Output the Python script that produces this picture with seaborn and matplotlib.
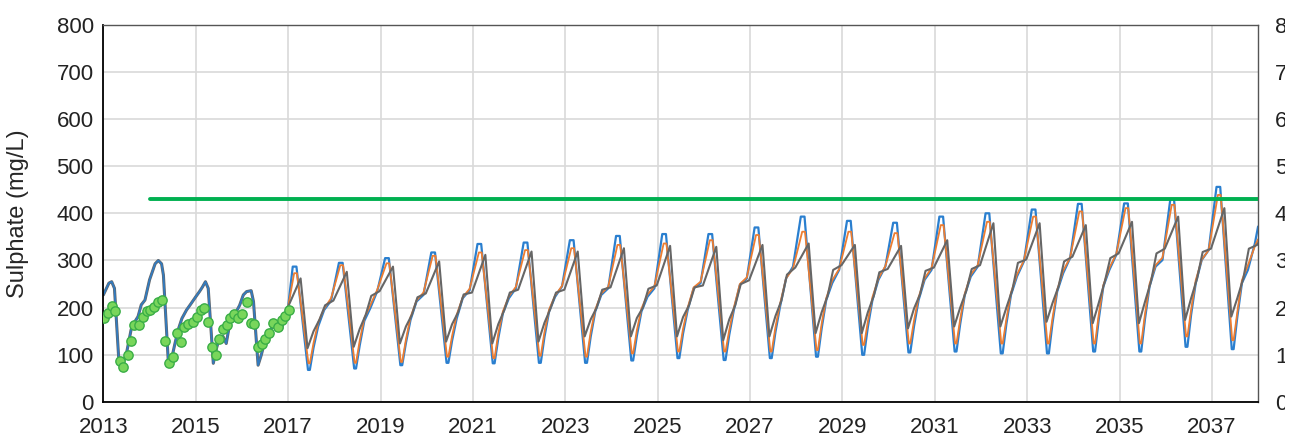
import pandas as pd
import matplotlib
matplotlib.use("Agg")
import matplotlib.pyplot as plt
from matplotlib.transforms import Bbox, TransformedBbox
import seaborn as sns

# ---- data ----
years = list(range(2017, 2038))

# calibration period (blue and grey model lines coincide)
hist_t = [2013.00, 2013.12, 2013.18, 2013.24, 2013.33, 2013.40, 2013.50, 2013.60, 2013.66, 2013.75,
          2013.82, 2013.90, 2014.00, 2014.12, 2014.19, 2014.26, 2014.30, 2014.41, 2014.48, 2014.55,
          2014.62, 2014.70, 2014.80, 2014.88, 2015.00, 2015.08, 2015.14, 2015.21, 2015.27, 2015.38,
          2015.45, 2015.52, 2015.59, 2015.66, 2015.73, 2015.80, 2015.88, 2015.95, 2016.03, 2016.10,
          2016.20, 2016.25, 2016.35, 2016.42, 2016.50, 2016.60, 2016.70, 2016.82, 2016.86, 2016.92,
          2017.00]
hist_v = [227, 252, 255, 241, 96, 75, 103, 153, 167, 181,
          206, 216, 259, 293, 300, 293, 269, 78, 93, 124,
          153, 177, 195, 206, 223, 234, 243, 255, 241, 82,
          114, 139, 139, 124, 163, 177, 192, 205, 227, 234,
          236, 213, 78, 100, 131, 149, 167, 160, 154, 181,
          202]

# observed sulphate
obs_t = [2013.01, 2013.11, 2013.18, 2013.25, 2013.35, 2013.43, 2013.53, 2013.59, 2013.67, 2013.77, 2013.85, 2013.94,
         2014.01, 2014.10, 2014.19, 2014.28, 2014.33, 2014.43, 2014.51, 2014.60, 2014.67, 2014.74, 2014.84, 2014.93,
         2015.02, 2015.11, 2015.18, 2015.27, 2015.36, 2015.43, 2015.51, 2015.60, 2015.67, 2015.74, 2015.83, 2015.92,
         2016.01, 2016.11, 2016.19, 2016.27, 2016.35, 2016.44, 2016.51, 2016.59, 2016.68, 2016.77, 2016.86, 2016.93,
         2017.02]
obs_v = [179, 189, 204, 193, 87, 75, 100, 130, 163, 163, 181, 192,
         195, 202, 213, 216, 130, 83, 95, 146, 128, 160, 165, 169,
         181, 196, 200, 169, 117, 100, 133, 154, 163, 179, 187, 178,
         187, 211, 168, 165, 117, 123, 133, 146, 168, 160, 174, 182,
         196]

# projections, one value per year (2017-2037) at each turning point
blue_peak = [287, 295, 305, 317, 335, 338, 343, 352, 356, 356, 370, 393, 384, 380, 393, 400, 408, 420, 421, 430, 456]
blue_trough = [68, 71, 78, 83, 82, 83, 83, 88, 93, 89, 93, 96, 100, 105, 107, 103, 103, 107, 107, 117, 112]
blue_jul = [115, 120, 125, 130, 135, 138, 138, 140, 145, 142, 148, 155, 158, 160, 165, 165, 168, 175, 175, 185, 180]
blue_aug = [160, 172, 174, 177, 188, 192, 192, 192, 195, 195, 202, 216, 216, 216, 227, 227, 234, 245, 245, 252, 252]
blue_oct = [195, 199, 213, 220, 220, 223, 227, 223, 241, 248, 262, 252, 259, 259, 266, 266, 273, 280, 287, 301, 280]
blue_dec = [215, 235, 227, 237, 241, 245, 241, 241, 252, 262, 287, 280, 287, 280, 287, 298, 305, 312, 301, 322, 336]
blue_end = 372

orange_peak = [273, 290, 294, 310, 317, 322, 326, 333, 336, 343, 354, 361, 361, 358, 375, 382, 393, 404, 411, 418, 439]
orange_trough = [82, 83, 85, 96, 93, 98, 96, 103, 107, 107, 107, 110, 121, 124, 124, 124, 124, 124, 124, 139, 131]
orange_jul = [125, 130, 132, 140, 145, 148, 148, 152, 155, 152, 158, 165, 170, 172, 175, 175, 178, 185, 185, 195, 190]
orange_aug = [168, 178, 180, 185, 192, 196, 196, 198, 200, 200, 208, 220, 222, 222, 230, 232, 238, 248, 250, 258, 258]
orange_oct = [198, 205, 215, 222, 224, 226, 230, 228, 243, 250, 262, 258, 262, 262, 270, 270, 278, 284, 290, 302, 290]
orange_dec = [220, 238, 232, 240, 244, 246, 244, 245, 255, 264, 283, 282, 288, 284, 290, 300, 306, 314, 306, 322, 330]
orange_end = 345

grey_peak = [262, 276, 287, 298, 312, 319, 319, 326, 331, 329, 333, 336, 333, 331, 343, 379, 379, 375, 382, 393, 411]
grey_trough = [114, 117, 124, 128, 124, 128, 139, 139, 139, 131, 139, 146, 146, 156, 160, 160, 170, 167, 167, 174, 181]
grey_jul = [150, 155, 160, 165, 165, 168, 175, 178, 180, 175, 182, 190, 190, 198, 200, 200, 210, 210, 212, 220, 220]
grey_aug = [175, 185, 185, 190, 195, 198, 200, 200, 205, 205, 215, 225, 225, 228, 235, 238, 245, 255, 255, 262, 262]
grey_oct = [205, 225, 222, 228, 232, 232, 238, 240, 243, 250, 270, 280, 275, 278, 282, 295, 298, 305, 315, 318, 325]
grey_dec = [215, 235, 230, 232, 238, 238, 243, 247, 247, 258, 285, 290, 282, 285, 290, 302, 308, 315, 325, 325, 333]
grey_end = 337

limit_value = 430
limit_start = 2014.0

# timing (fraction of year) of each turning point for the three model runs
blue_pos = [0.10, 0.18, 0.43, 0.47, 0.55, 0.65, 0.78, 0.93]
orange_pos = [0.13, 0.19, 0.44, 0.47, 0.55, 0.65, 0.78, 0.93]
grey_pos = [0.27, 0.42, 0.55, 0.68, 0.80, 0.98]


def build(cols, pos, end):
    t = [hist_t[-1]]
    v = [hist_v[-1]]
    for i, y in enumerate(years):
        for p, c in zip(pos, cols):
            t.append(y + p)
            v.append(c[i])
    t.append(2038.0)
    v.append(end)
    return pd.DataFrame({"t": t, "v": v})


hist = pd.DataFrame({"t": hist_t, "v": hist_v})
blue = build([blue_peak, blue_peak, blue_trough, blue_trough, blue_jul, blue_aug, blue_oct, blue_dec],
             blue_pos, blue_end)
orange = build([orange_peak, orange_peak, orange_trough, orange_trough, orange_jul, orange_aug, orange_oct,
                orange_dec], orange_pos, orange_end)
grey = build([grey_peak, grey_trough, grey_jul, grey_aug, grey_oct, grey_dec], grey_pos, grey_end)
obs = pd.DataFrame({"t": obs_t, "v": obs_v})

# ---- plot ----
sns.set_style("white")
plt.rcParams["font.family"] = ["Liberation Sans", "DejaVu Sans"]

fig = plt.figure(figsize=(12.97, 4.40), dpi=100)
ax = fig.add_axes([0.0797, 0.0864, 0.8903, 0.8576])

BLUE = "#2a7fcf"
ORANGE = "#ed7d31"
GREY = "#666666"

sns.lineplot(data=hist, x="t", y="v", ax=ax, color=GREY, lw=2.2, sort=False, estimator=None)
sns.lineplot(data=hist, x="t", y="v", ax=ax, color=BLUE, lw=1.3, alpha=0.85, sort=False, estimator=None)
sns.lineplot(data=blue, x="t", y="v", ax=ax, color=BLUE, lw=1.6, sort=False, estimator=None)
sns.lineplot(data=orange, x="t", y="v", ax=ax, color=ORANGE, lw=1.3, sort=False, estimator=None)
sns.lineplot(data=grey, x="t", y="v", ax=ax, color=GREY, lw=1.5, sort=False, estimator=None)
ax.plot([limit_start, 2038.0], [limit_value, limit_value], color="#00b050", lw=2.8, zorder=5)
sns.scatterplot(data=obs, x="t", y="v", ax=ax, s=45, color="#79d65b", edgecolor="#3aae46",
                linewidth=1.0, zorder=6)

ax.set_xlim(2013, 2038)
ax.set_ylim(0, 800)
ax.set_xticks(range(2013, 2038, 2))
ax.set_yticks(range(0, 801, 100))
ax.grid(True, color="#d9d9d9", lw=1.2)
ax.set_axisbelow(True)
ax.set_xlabel("")
ax.set_ylabel("Sulphate (mg/L)", fontsize=17)
ax.yaxis.set_label_coords(-0.064, 0.5)
ax.tick_params(axis="both", length=0, labelsize=16, pad=7, colors="#222222")
ax.tick_params(axis="x", pad=11)

for s in ["left", "bottom"]:
    ax.spines[s].set_color("black")
    ax.spines[s].set_linewidth(1.3)
for s in ["top", "right"]:
    ax.spines[s].set_color("#555555")
    ax.spines[s].set_linewidth(1.0)

ax2 = ax.twinx()
ax2.set_ylim(0, 8)
ax2.set_yticks(range(0, 9))
ax2.tick_params(axis="y", length=0, labelsize=16, pad=12, colors="#222222")
ax2.grid(False)
for s in ax2.spines.values():
    s.set_visible(False)

# the reference picture cuts the right-hand labels off
clip = TransformedBbox(Bbox([[0, 0], [1285 / 1297, 1]]), fig.transFigure)
for lbl in ax2.get_yticklabels():
    lbl.set_clip_on(True)
    lbl.set_clip_box(clip)

fig.savefig("out.png", dpi=100)
